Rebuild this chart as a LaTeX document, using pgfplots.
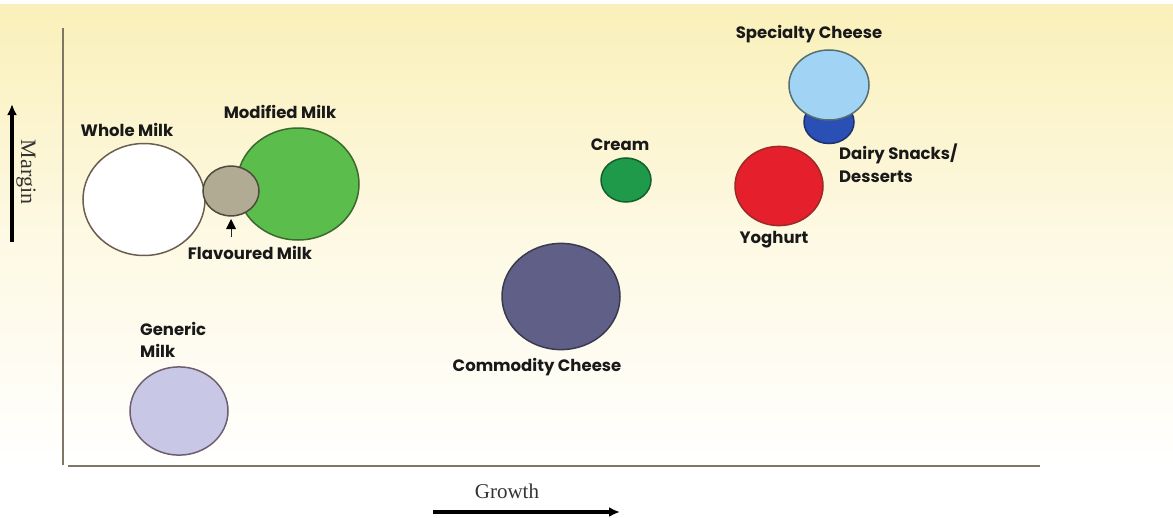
\documentclass[border=0pt]{standalone}
\usepackage{fontspec}
\setmainfont{Liberation Serif}
\newfontfamily\lab{Poppins}
\usepackage{pgfplots}
\pgfplotsset{compat=1.18}
\usetikzlibrary{arrows.meta}
\definecolor{bgY}{HTML}{FAF0BA}
\definecolor{axcol}{HTML}{7E7666}
\definecolor{cWhole}{HTML}{FFFFFF}
\definecolor{eWhole}{HTML}{6B5E50}
\definecolor{cFlav}{HTML}{B2AB93}
\definecolor{eFlav}{HTML}{4E4A3C}
\definecolor{cMod}{HTML}{5BBD4B}
\definecolor{eMod}{HTML}{3A6A2E}
\definecolor{cGen}{HTML}{C9C7E6}
\definecolor{eGen}{HTML}{6E5E70}
\definecolor{cCom}{HTML}{5F5F87}
\definecolor{eCom}{HTML}{3B3B50}
\definecolor{cCream}{HTML}{1F9A4B}
\definecolor{eCream}{HTML}{145F2E}
\definecolor{cSpec}{HTML}{A1D4F4}
\definecolor{eSpec}{HTML}{566E6E}
\definecolor{cDairy}{HTML}{2A4FB5}
\definecolor{eDairy}{HTML}{1E3070}
\definecolor{cYog}{HTML}{E51F2B}
\definecolor{eYog}{HTML}{9A2A25}
\pgfplotsset{
  bub/.style n args={4}{only marks, mark=*, mark size=#1bp,
    mark options={yscale=#2, fill=#3, draw=#4, line width=1.5bp}}
}
\begin{document}
\begin{tikzpicture}
\begin{axis}[scale only axis, width=1173bp, height=517bp,
  xmin=0, xmax=1173, ymin=0, ymax=517, y dir=reverse,
  axis lines=none, clip=false]
\path (axis cs:0,0) rectangle (axis cs:1173,517);
\shade[top color=bgY, bottom color=white, middle color=bgY!40!white]
  (axis cs:0,5) rectangle (axis cs:1173,470);
% axes
\draw[axcol, line width=2bp] (axis cs:62.5,28) -- (axis cs:62.5,465);
\draw[axcol, line width=2bp] (axis cs:68,466) -- (axis cs:1040,466);
% bubbles
\addplot[bub={61}{0.918}{cWhole}{eWhole}] coordinates {(144,199.5)};
\addplot[bub={61}{0.918}{cMod}{eMod}] coordinates {(298,184)};
\addplot[bub={28}{0.89}{cFlav}{eFlav}] coordinates {(231,191)};
\addplot[bub={49}{0.9}{cGen}{eGen}] coordinates {(179,411)};
\addplot[bub={59}{0.9}{cCom}{eCom}] coordinates {(561,296.5)};
\addplot[bub={25}{0.88}{cCream}{eCream}] coordinates {(626,180)};
\addplot[bub={25}{0.86}{cDairy}{eDairy}] coordinates {(829,122)};
\addplot[bub={40}{0.875}{cSpec}{eSpec}] coordinates {(829,85)};
\addplot[bub={44}{0.9}{cYog}{eYog}] coordinates {(779,186)};
% labels
\begin{scope}[every node/.style={font=\lab\bfseries\fontsize{16.5bp}{18bp}\selectfont, text=black!90, inner sep=0pt}]
\node at (axis cs:127,130) {Whole Milk};
\node at (axis cs:280,112) {Modified Milk};
\node at (axis cs:250,253) {Flavoured Milk};
\node at (axis cs:620,145) {Cream};
\node at (axis cs:809,34) {Specialty Cheese};
\node[anchor=west] at (axis cs:839,154) {Dairy Snacks/};
\node[anchor=west] at (axis cs:839,177) {Desserts};
\node at (axis cs:774,240) {Yoghurt};
\node at (axis cs:537,367) {Commodity Cheese};
\node[anchor=west] at (axis cs:140,329) {Generic};
\node[anchor=west] at (axis cs:140,351) {Milk};
\end{scope}
\draw[black!85, line width=1bp] (axis cs:231,237) -- (axis cs:231,228);
\fill[black] (axis cs:226,229) -- (axis cs:236,229) -- (axis cs:231,219) -- cycle;
% axis titles
\node[rotate=-90, font=\fontsize{22bp}{24bp}\selectfont, text=black!80] at (axis cs:26,172) {Margin};
\draw[black, line width=3.5bp, -{Latex[length=11bp,width=10bp]}] (axis cs:12,242) -- (axis cs:12,104);
\node[font=\fontsize{21bp}{23bp}\selectfont, text=black!80] at (axis cs:507,491) {Growth};
\draw[black, line width=3.5bp, -{Latex[length=11bp,width=10bp]}] (axis cs:433,512) -- (axis cs:620,512);
\end{axis}
\end{tikzpicture}
\end{document}
